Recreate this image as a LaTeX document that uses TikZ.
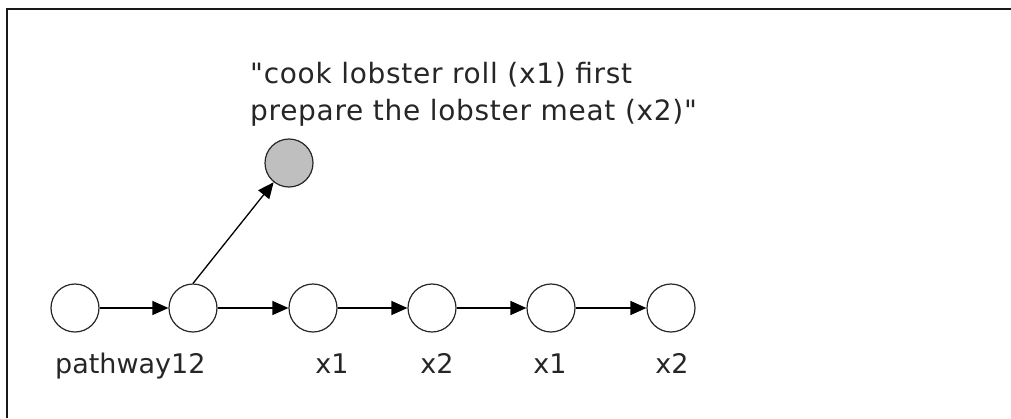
\documentclass[tikz,border=0pt]{standalone}
\usepackage{fontspec}
\setmainfont{DejaVu Sans}[Ligatures=TeXOff]
\newfontfamily\notefont{DejaVu Sans}[Ligatures=TeXOff,LetterSpace=2.5]
\usetikzlibrary{arrows.meta}

\tikzset{
  state/.style={draw=black!85,circle,minimum size=48pt,inner sep=0pt,line width=1.2pt,fill=white},
  lbl/.style={font=\fontsize{27}{37}\selectfont,text=black!85,inner sep=0pt},
  edge/.style={line width=1.3pt,-{Triangle[length=16pt,width=14pt]}}
}

\begin{document}
\begin{tikzpicture}[x=1pt,y=-1pt]
   \useasboundingbox (0,0) rectangle (1011,418);
   % frame
   \draw[line width=2.8pt,black!90] (7,418) -- (7,9) -- (1011,9);
   % chain
   \node[state] (p) at (75,308) {};
   \node[state] (s) at (193,308) {};
   \node[state] (a1) at (313,308) {};
   \node[state] (a2) at (432,308) {};
   \node[state] (a3) at (551,308) {};
   \node[state] (a4) at (671,308) {};
   \node[state,fill=black!25] (note) at (289,163) {};
   \draw[edge] (p) -- (s);
   \draw[edge] (s) -- (a1);
   \draw[edge] (a1) -- (a2);
   \draw[edge] (a2) -- (a3);
   \draw[edge] (a3) -- (a4);
   \draw[edge] (s.north) -- (note);
   % labels
   \node[lbl,anchor=base west] (lp) at (55,373) {pathway12};
   \node[lbl,anchor=base] (l1) at (332,373) {x1};
   \node[lbl,anchor=base] (l2) at (437,373) {x2};
   \node[lbl,anchor=base] (l3) at (550,373) {x1};
   \node[lbl,anchor=base] (l4) at (672,373) {x2};
   \node[lbl,font=\notefont\fontsize{28}{37}\selectfont,anchor=north west,align=left] (txt) at (250,62) {"cook lobster roll (x1) first\\prepare the lobster meat (x2)"};
\end{tikzpicture}
\end{document}
